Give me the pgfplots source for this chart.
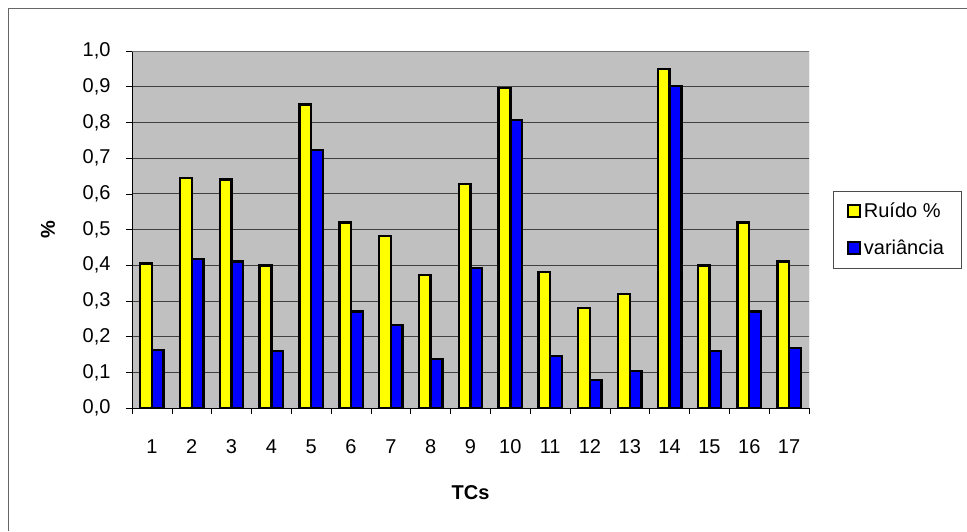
\documentclass[border=0pt]{standalone}
\usepackage{fontspec}
\setmainfont{Liberation Sans}
\usepackage{pgfplots}
\pgfplotsset{compat=1.18}

\definecolor{plotbg}{HTML}{C0C0C0}
\definecolor{xlyellow}{HTML}{FFFF00}
\definecolor{xlblue}{HTML}{0000FF}

\begin{document}
\begin{tikzpicture}
\useasboundingbox (0,0) rectangle (967pt,531pt);
\draw[black!60, line width=0.8pt] (8pt,0) -- (8pt,523pt) -- (967pt,523pt);

\begin{axis}[
    at={(132pt,123pt)}, anchor=south west,
    width=677pt, height=357pt, scale only axis,
    ybar=0pt, bar width=11.7pt,
    xmin=0.5, xmax=17.5,
    ymin=0, ymax=1,
    xtick={1,...,17},
    minor xtick={0.5,1.5,...,17.5},
    ytick={0,0.1,...,1.0},
    major x tick style={draw=none},
    minor tick length=6pt,
    major tick length=6pt,
    tick align=outside,
    tick style={black, line width=0.6pt},
    xtick pos=bottom, ytick pos=left,
    axis background/.style={fill=plotbg},
    ymajorgrids=true,
    grid style={black!75, line width=0.7pt},
    axis x line*=bottom, axis y line*=left,
    axis line style={black, line width=0.8pt},
    font=\fontsize{20}{24}\selectfont,
    /pgf/number format/assume math mode=true,
    /pgf/number format/use comma,
    yticklabel style={/pgf/number format/fixed, /pgf/number format/fixed zerofill,
        /pgf/number format/precision=1, xshift=-12pt},
    xticklabel style={yshift=-22pt},
    xlabel={\textbf{TCs}},
    ylabel={\textbf{\%}},
    xlabel style={at={(axis description cs:0.5,-0.238)}, anchor=center},
    ylabel style={at={(axis description cs:-0.124,0.5)}, anchor=center},
    legend style={at={(1,0.5)}, anchor=west, xshift=24pt,
        draw=black!70, line width=0.6pt, font=\fontsize{20}{24}\selectfont,
        row sep=17pt, inner xsep=14pt, inner ysep=10pt,
        nodes={inner xsep=3pt}},
    legend cell align=left,
    legend image code/.code={\draw[#1, line width=1.6pt] (0pt,-6pt) rectangle (12pt,6pt);},
    every axis plot/.append style={draw=black, line width=2.4pt},
]
\draw[black!55, line width=0.8pt] (rel axis cs:0,1) -- (rel axis cs:1,1) -- (rel axis cs:1,0);

\addplot[fill=xlyellow] coordinates {
    (1,0.405) (2,0.645) (3,0.640) (4,0.399) (5,0.850) (6,0.520)
    (7,0.481) (8,0.372) (9,0.627) (10,0.897) (11,0.381) (12,0.280)
    (13,0.320) (14,0.949) (15,0.399) (16,0.520) (17,0.410)
};
\addplot[fill=xlblue] coordinates {
    (1,0.163) (2,0.417) (3,0.410) (4,0.160) (5,0.723) (6,0.270)
    (7,0.232) (8,0.138) (9,0.392) (10,0.806) (11,0.146) (12,0.078)
    (13,0.103) (14,0.902) (15,0.160) (16,0.270) (17,0.168)
};
\legend{Ruído \%, variância}
\end{axis}
\end{tikzpicture}
\end{document}
